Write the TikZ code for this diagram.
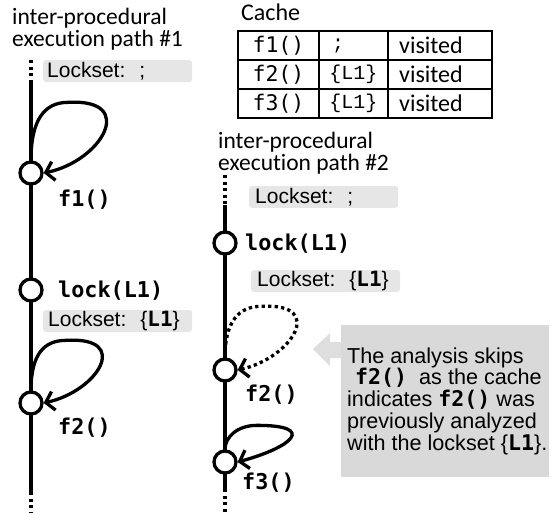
\documentclass[tikz,border=0pt]{standalone}
\usepackage{fontspec}
\setmainfont{Liberation Sans}
\newfontfamily\calfont[Ligatures=NoCommon]{Carlito}
\newfontfamily\codefont{DejaVu Sans Mono}
\newfontfamily\courfont{Liberation Mono}
\usetikzlibrary{arrows.meta}
\definecolor{boxgray}{HTML}{E6E6E6}
\definecolor{calloutgray}{HTML}{D9D9D9}
\definecolor{arrowgray}{HTML}{DEDEDE}
\begin{document}
\begin{tikzpicture}[x=1pt,y=-1pt,
  pathline/.style={line width=4pt},
  dotline/.style={line width=3.6pt, dash pattern=on 3.3pt off 3.2pt},
  event/.style={circle, draw, line width=3.3pt, fill=white, minimum size=22pt, inner sep=0pt},
  callee/.style={anchor=west, inner sep=0pt, font=\codefont\bfseries\fontsize{21.8}{21.8}\selectfont},
  loopline/.style={line width=3.3pt, -{Straight Barb[length=8pt,width=19pt]}},
  skipline/.style={loopline, dash pattern=on 3.3pt off 3.2pt},
  lockbox/.style={anchor=west, fill=boxgray, rounded corners=3pt, minimum width=149pt,
    minimum height=22pt, inner ysep=0pt, align=left, font=\fontsize{21}{21}\selectfont},
  title/.style={anchor=base west, inner sep=0pt, font=\calfont\fontsize{23.5}{23.5}\selectfont},
  cell/.style={draw, line width=2pt, inner sep=0pt, minimum height=29pt},
  notetext/.style={anchor=base west, inner sep=0pt, font=\fontsize{21.6}{21.6}\selectfont},
]
\useasboundingbox (0,0) rectangle (552,512);

% ---------- execution path #1 ----------
\node[title] (t1a) at (12,24) {inter-procedural};
\node[title] (t1b) at (12,46) {execution path \#1};

\coordinate (p1a) at (31,60);
\coordinate (p1b) at (31,82);
\coordinate (p1c) at (31,492);
\coordinate (p1d) at (31,512);
\draw[dotline] (p1a) -- (p1b);
\draw[pathline] (p1b) -- (p1c);
\draw[dotline] (p1c) -- (p1d);

\node[lockbox, inner xsep=4pt, text width=141pt] (ls1a) at (43,71) {Lockset:\ \ ;};

\node[event] (f1) at (31,173) {};
\draw[loopline] (f1.north) .. controls +(0,-40) and +(-24,0) .. ++(37,-58)
  .. controls +(70,-4) and +(58,-12) .. (f1.east);
\node[callee] (f1l) at (58,200) {f1()};

\node[event] (lk1) at (31,290) {};
\node[callee] (lk1l) at (58,291) {lock(L1)};
\node[lockbox, inner xsep=5pt, text width=139pt] (ls1b) at (43,321)
  {Lockset:\ \ \{{\codefont\bfseries L1}\}};

\node[event] (f2a) at (31,403) {};
\draw[loopline] (f2a.north) .. controls +(0,-36) and +(-22,0) .. ++(35,-50)
  .. controls +(66,-4) and +(54,-12) .. (f2a.east);
\node[callee] (f2al) at (58,428) {f2()};

% ---------- cache table ----------
\node[anchor=base west, inner sep=0pt, font=\calfont\fontsize{24}{24}\selectfont] (cache) at (241,20) {Cache};
\node[cell, minimum width=81pt] (c11) at (278.5,45.5) {};
\node[cell, minimum width=69pt] (c12) at (353.5,45.5) {};
\node[cell, minimum width=104pt] (c13) at (440,45.5) {};
\node[cell, minimum width=81pt] (c21) at (278.5,74.5) {};
\node[cell, minimum width=69pt] (c22) at (353.5,74.5) {};
\node[cell, minimum width=104pt] (c23) at (440,74.5) {};
\node[cell, minimum width=81pt] (c31) at (278.5,103.5) {};
\node[cell, minimum width=69pt] (c32) at (353.5,103.5) {};
\node[cell, minimum width=104pt] (c33) at (440,103.5) {};
\foreach \r/\f in {1/f1(), 2/f2(), 3/f3()} {
  \node[font=\codefont\fontsize{21.5}{21.5}\selectfont, inner sep=0pt] at (c\r1) {\f};
  \node[anchor=west, inner sep=0pt, font=\calfont\fontsize{24}{24}\selectfont] at (399,29*\r+16.5) {visited};
}
\node[font=\courfont\fontsize{20}{20}\selectfont, inner sep=0pt] (semi) at (338,45.5) {;};
\node[font=\courfont\fontsize{20}{20}\selectfont, inner sep=0pt] (lsa) at (c22) {\{L1\}};
\node[font=\courfont\fontsize{20}{20}\selectfont, inner sep=0pt] (lsb) at (c32) {\{L1\}};

% ---------- execution path #2 ----------
\node[title] (t2a) at (218,148) {inter-procedural};
\node[title] (t2b) at (218,170) {execution path \#2};

\coordinate (p2a) at (225,175);
\coordinate (p2b) at (225,205);
\coordinate (p2c) at (225,489);
\coordinate (p2d) at (225,512);
\draw[dotline] (p2a) -- (p2b);
\draw[pathline] (p2b) -- (p2c);
\draw[dotline] (p2c) -- (p2d);

\node[lockbox, inner xsep=6pt, text width=137pt] (ls2a) at (249,197) {Lockset:\ \ ;};

\node[event] (lk2) at (225,243) {};
\node[callee] (lk2l) at (245,244) {lock(L1)};
\node[lockbox, inner xsep=6pt, text width=137pt] (ls2b) at (251,281)
  {Lockset:\ \ \{{\codefont\bfseries L1}\}};

\node[event] (f2b) at (225,370) {};
\draw[skipline] (f2b.north) .. controls +(0,-36) and +(-22,0) .. ++(36,-51)
  .. controls +(66,-4) and +(54,-12) .. (f2b.east);
\node[callee] (f2bl) at (245,395) {f2()};

\node[event] (f3) at (225,462) {};
\draw[loopline] (f3.north) .. controls +(0,-12) and +(-20,0) .. ++(32,-24)
  .. controls +(60,0) and +(55,-15) .. (f3.east);
\node[callee] (f3l) at (242,483) {f3()};

% ---------- note on the skipped call ----------
\node[fill=calloutgray, inner sep=0pt, minimum width=208pt, minimum height=152pt, anchor=north west] (note) at (341,325) {};
\fill[arrowgray] (313,349) -- (330,333) -- (330,342) -- (note.west |- 0,342)
  -- (note.west |- 0,358) -- (330,358) -- (330,366) -- cycle;
\node[notetext] (n1) at (347,363) {The analysis skips};
\node[notetext] (n2) at (355,384.75) {{\codefont\bfseries f2()}\ \ as the cache};
\node[notetext] (n3) at (347,406.5) {indicates {\codefont\bfseries f2()} was};
\node[notetext] (n4) at (347,428.25) {previously analyzed};
\node[notetext] (n5) at (347,450) {with the lockset \{{\codefont\bfseries L1}\}.};
\end{tikzpicture}
\end{document}
